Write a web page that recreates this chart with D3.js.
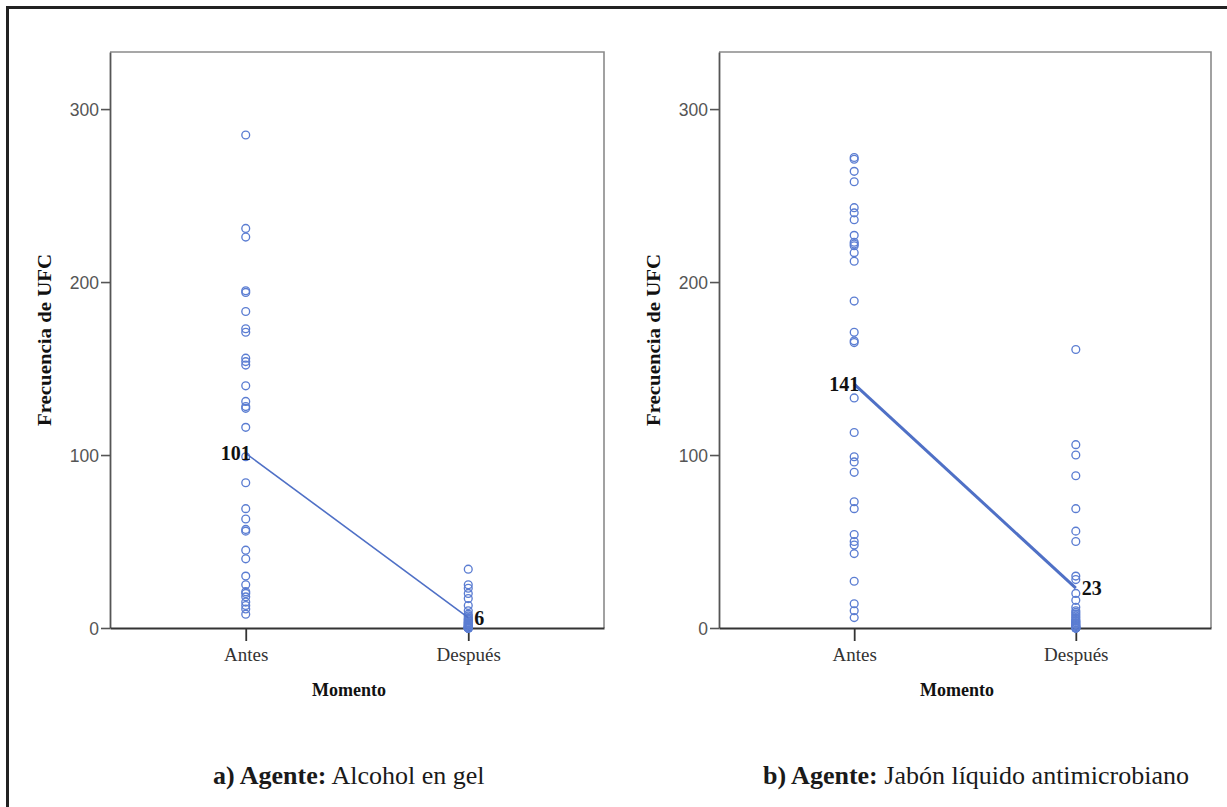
<!DOCTYPE html>
<html><head><meta charset="utf-8">
<script src="https://cdn.jsdelivr.net/npm/d3@7"></script>
<style>html,body{margin:0;padding:0;background:#fff;overflow:hidden}</style>
</head><body>
<svg id="c" width="1227" height="807"></svg>
<script>
// ---- data ----
const categories = ["Antes", "Después"];
const yTicks = [0, 100, 200, 300];
const alcoholAntes = [285,231,226,195,194,183,173,171,156,154,152,140,131,128,127,116,99,84,69,63,57,56,45,40,30,25,21,20,18,15,13,11,8];
const alcoholDespues = [34,25,23,20,17,13,10,8,7,6,5,5,4,4,3,3,3,2,2,2,1,1,1,1,0,0,0,0,0,0,0,0,0];
const alcoholMeans = [101, 6];
const jabonAntes = [272,271,264,258,243,240,236,227,223,222,221,217,212,189,171,166,165,133,113,99,96,90,73,69,54,50,48,43,27,14,10,6];
const jabonDespues = [161,106,100,88,69,56,50,30,28,20,16,12,10,9,8,7,6,5,4,4,3,3,2,2,1,1,1,0,0,0,0,0];
const jabonMeans = [141, 23];
const captionsBold = ["a) Agente:", "b) Agente:"];
const captionsRest = ["Alcohol en gel", "Jabón líquido antimicrobiano"];
const yTitle = "Frecuencia de UFC";
const xTitle = "Momento";

const svg = d3.select("#c");
const blue = "#5b7dd2";
const lineBlue = "#4f70c6";
const serif = "'Liberation Serif', 'Times New Roman', serif";
const sans = "'Liberation Sans', Arial, sans-serif";

// outer border (only top and left visible)
svg.append("line").attr("x1",6).attr("x2",1227).attr("y1",7.5).attr("y2",7.5).attr("stroke","#222").attr("stroke-width",3);
svg.append("line").attr("x1",7.5).attr("x2",7.5).attr("y1",6).attr("y2",807).attr("stroke","#222").attr("stroke-width",3);

const panels = [
  {x0:110, x1:604, antes:alcoholAntes, despues:alcoholDespues, means:alcoholMeans, lw:1.6, cap:0, capAnchor:"start", capX:213},
  {x0:719, x1:1211, antes:jabonAntes, despues:jabonDespues, means:jabonMeans, lw:3, cap:1, capAnchor:"end", capX:1189}
];
const plotTop = 52, plotBottom = 628;

panels.forEach(p => {
  const g = svg.append("g");
  const x = d3.scalePoint().domain(categories).range([p.x0, p.x1]).padding(0.61);
  const y = d3.scaleLinear().domain([0, 333]).range([plotBottom, plotTop]);

  // frame top/right
  g.append("path").attr("d", `M${p.x0},${plotTop}H${p.x1}V${plotBottom}`).attr("fill","none").attr("stroke","#8a8a8a").attr("stroke-width",1.6);

  // y axis
  const ya = g.append("g").attr("transform",`translate(${p.x0},0)`)
    .call(d3.axisLeft(y).tickValues(yTicks).tickSize(9).tickSizeOuter(0).tickPadding(2).tickFormat(d3.format("d")));
  ya.select(".domain").attr("stroke","#555").attr("stroke-width",1.8);
  ya.selectAll(".tick line").attr("stroke","#555").attr("stroke-width",1.6);
  ya.selectAll(".tick text").attr("fill","#555").attr("font-family",sans).attr("font-size",17.5).attr("dy","0.36em");

  // x axis
  const xa = g.append("g").attr("transform",`translate(0,${plotBottom})`)
    .call(d3.axisBottom(x).tickSize(13).tickSizeOuter(0).tickPadding(5));
  xa.select(".domain").attr("stroke","#333").attr("stroke-width",1.8);
  xa.selectAll(".tick line").attr("stroke","#333").attr("stroke-width",1.8);
  xa.selectAll(".tick text").attr("fill","#333").attr("font-family",serif).attr("font-size",19).attr("dy","0.78em");

  // axis titles
  g.append("text").attr("x",(p.x0+p.x1)/2 - 8).attr("y",696).attr("text-anchor","middle")
    .attr("font-family",serif).attr("font-weight","bold").attr("font-size",18).attr("fill","#111").text(xTitle);
  g.append("text").attr("transform",`translate(${p.x0-59},${(plotTop+plotBottom)/2}) rotate(-90)`).attr("text-anchor","middle")
    .attr("font-family",serif).attr("font-weight","bold").attr("font-size",18).attr("fill","#111")
    .attr("textLength",172).attr("lengthAdjust","spacingAndGlyphs").text(yTitle);

  // points
  const pts = p.antes.map(v => ({c:categories[0], v})).concat(p.despues.map(v => ({c:categories[1], v})));
  g.selectAll("circle.pt").data(pts).enter().append("circle").attr("class","pt")
    .attr("cx", d => x(d.c)).attr("cy", d => y(d.v)).attr("r",3.9)
    .attr("fill","none").attr("stroke",blue).attr("stroke-width",1.35);

  // mean line
  const md = categories.map((c,i) => ({c, v:p.means[i]}));
  g.append("path").datum(md).attr("d", d3.line().x(d => x(d.c)).y(d => y(d.v)))
    .attr("fill","none").attr("stroke",lineBlue).attr("stroke-width",p.lw);

  // mean labels
  g.append("text").attr("x", x(categories[0]) + 5).attr("y", y(p.means[0])).attr("dy","0.35em").attr("text-anchor","end")
    .attr("font-family",serif).attr("font-weight","bold").attr("font-size",20).attr("fill","#111").text(p.means[0]);
  g.append("text").attr("x", x(categories[1]) + 6).attr("y", y(p.means[1])).attr("dy","0.35em").attr("text-anchor","start")
    .attr("font-family",serif).attr("font-weight","bold").attr("font-size",20).attr("fill","#111").text(p.means[1]);

  // caption
  const t = svg.append("text").attr("x",p.capX).attr("y",784).attr("text-anchor",p.capAnchor)
    .attr("font-family",serif).attr("font-size",26).attr("fill","#1a1a1a");
  t.append("tspan").attr("font-family",serif).attr("font-weight","bold").text(captionsBold[p.cap]);
  t.append("tspan").attr("font-family",serif).attr("font-weight","normal").text(" " + captionsRest[p.cap]);
});
</script>
</body></html>
